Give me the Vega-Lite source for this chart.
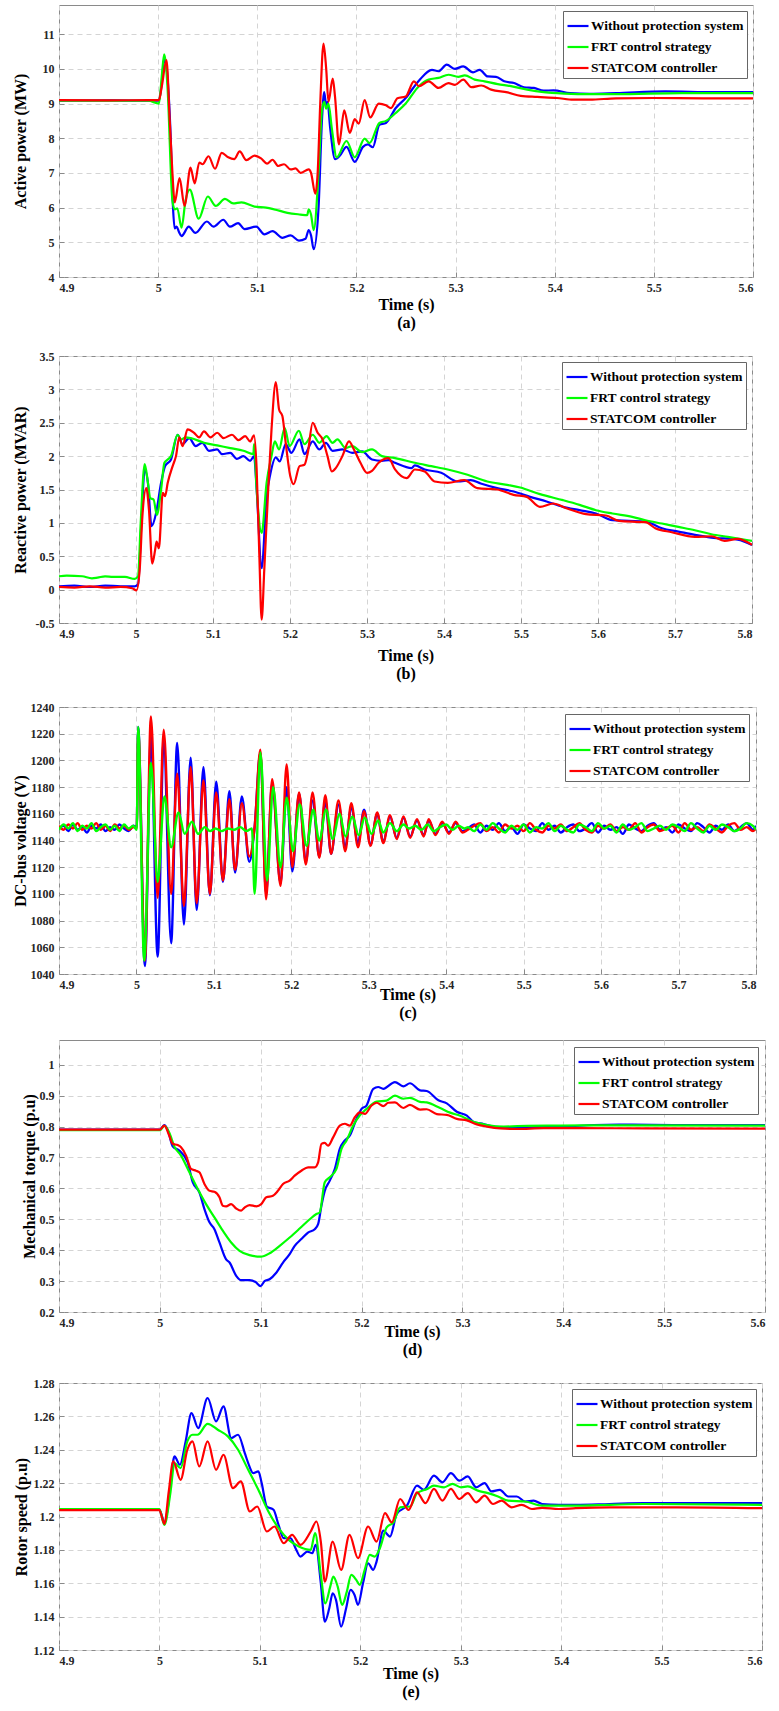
{
"$schema":"https://vega.github.io/schema/vega-lite/v6.json",
"padding":{"left":11,"top":4,"right":5,"bottom":2},
"background":"white",
"spacing":18,
"columns":1,
"align":"none",
"config":{
"view":{"stroke":"#8a8a8a","strokeWidth":1},
"font":"Liberation Serif, Times New Roman, DejaVu Serif, serif",
"axis":{"labelFont":"Liberation Serif, Times New Roman, DejaVu Serif, serif","labelFontWeight":"bold","labelFontSize":12,"labelColor":"#262626","titleFont":"Liberation Serif, Times New Roman, DejaVu Serif, serif","titleFontWeight":"bold","titleFontSize":16,"titleColor":"#000000","grid":true,"gridColor":"#d4d4d4","gridDash":[5,4],"gridWidth":1,"domain":false,"ticks":true,"tickSize":-5,"tickColor":"#8a8a8a","labelPadding":10,"titleLineHeight":18},
"line":{"strokeWidth":2.2,"clip":true,"interpolate":"monotone"}
},
"resolve":{"scale":{"x":"independent","y":"independent","color":"independent"},"legend":{"color":"independent"}},
"datasets":{
"a":[
{"s":"W","t":4.9,"v":9.08},{"s":"W","t":4.95,"v":9.09},{"s":"W","t":5.0008,"v":9.08},{"s":"W","t":5.0037,"v":9.6},{"s":"W","t":5.0061,"v":10.3},{"s":"W","t":5.0084,"v":10.05},{"s":"W","t":5.0127,"v":8.0},{"s":"W","t":5.015,"v":6.0},{"s":"W","t":5.0167,"v":5.4},{"s":"W","t":5.0187,"v":5.45},{"s":"W","t":5.021,"v":5.3},{"s":"W","t":5.0236,"v":5.18},{"s":"W","t":5.0309,"v":5.45},{"s":"W","t":5.0376,"v":5.27},{"s":"W","t":5.0492,"v":5.6},{"s":"W","t":5.0558,"v":5.45},{"s":"W","t":5.0657,"v":5.65},{"s":"W","t":5.0724,"v":5.45},{"s":"W","t":5.0806,"v":5.55},{"s":"W","t":5.0873,"v":5.38},{"s":"W","t":5.0989,"v":5.45},{"s":"W","t":5.1072,"v":5.23},{"s":"W","t":5.1154,"v":5.32},{"s":"W","t":5.1254,"v":5.13},{"s":"W","t":5.1337,"v":5.2},{"s":"W","t":5.142,"v":5.05},{"s":"W","t":5.1486,"v":5.1},{"s":"W","t":5.1519,"v":5.35},{"s":"W","t":5.1542,"v":5.2},{"s":"W","t":5.1569,"v":4.8},{"s":"W","t":5.1618,"v":6.0},{"s":"W","t":5.1652,"v":8.5},{"s":"W","t":5.1675,"v":9.33},{"s":"W","t":5.1695,"v":8.95},{"s":"W","t":5.1708,"v":9.05},{"s":"W","t":5.1735,"v":8.3},{"s":"W","t":5.1784,"v":7.4},{"s":"W","t":5.1834,"v":7.5},{"s":"W","t":5.19,"v":7.75},{"s":"W","t":5.1983,"v":7.32},{"s":"W","t":5.2066,"v":7.75},{"s":"W","t":5.2116,"v":7.82},{"s":"W","t":5.2165,"v":7.74},{"s":"W","t":5.2232,"v":8.39},{"s":"W","t":5.2298,"v":8.44},{"s":"W","t":5.2397,"v":8.87},{"s":"W","t":5.2497,"v":9.16},{"s":"W","t":5.263,"v":9.66},{"s":"W","t":5.2762,"v":9.97},{"s":"W","t":5.2828,"v":9.93},{"s":"W","t":5.2911,"v":10.12},{"s":"W","t":5.2994,"v":10.0},{"s":"W","t":5.3077,"v":10.07},{"s":"W","t":5.3176,"v":9.9},{"s":"W","t":5.3243,"v":9.97},{"s":"W","t":5.3325,"v":9.78},{"s":"W","t":5.3408,"v":9.77},{"s":"W","t":5.3491,"v":9.64},{"s":"W","t":5.3591,"v":9.59},{"s":"W","t":5.369,"v":9.47},{"s":"W","t":5.379,"v":9.45},{"s":"W","t":5.3889,"v":9.37},{"s":"W","t":5.3988,"v":9.38},{"s":"W","t":5.4154,"v":9.3},{"s":"W","t":5.4353,"v":9.28},{"s":"W","t":5.4618,"v":9.3},{"s":"W","t":5.5115,"v":9.35},{"s":"W","t":5.5613,"v":9.33},{"s":"W","t":5.6,"v":9.33},
{"s":"F","t":4.9,"v":9.08},{"s":"F","t":4.99,"v":9.08},{"s":"F","t":5.0008,"v":9.0},{"s":"F","t":5.0037,"v":9.8},{"s":"F","t":5.0061,"v":10.42},{"s":"F","t":5.0094,"v":9.5},{"s":"F","t":5.0144,"v":6.2},{"s":"F","t":5.0167,"v":5.95},{"s":"F","t":5.0193,"v":5.98},{"s":"F","t":5.0236,"v":5.42},{"s":"F","t":5.0276,"v":6.2},{"s":"F","t":5.0319,"v":6.52},{"s":"F","t":5.0409,"v":5.68},{"s":"F","t":5.0501,"v":6.32},{"s":"F","t":5.0581,"v":6.05},{"s":"F","t":5.0674,"v":6.25},{"s":"F","t":5.0757,"v":6.12},{"s":"F","t":5.084,"v":6.15},{"s":"F","t":5.0972,"v":6.03},{"s":"F","t":5.1088,"v":6.0},{"s":"F","t":5.1171,"v":5.95},{"s":"F","t":5.1304,"v":5.85},{"s":"F","t":5.1436,"v":5.8},{"s":"F","t":5.1503,"v":5.78},{"s":"F","t":5.1519,"v":5.95},{"s":"F","t":5.1542,"v":5.8},{"s":"F","t":5.1569,"v":5.35},{"s":"F","t":5.1618,"v":7.0},{"s":"F","t":5.1652,"v":8.8},{"s":"F","t":5.1675,"v":9.05},{"s":"F","t":5.1695,"v":8.85},{"s":"F","t":5.1718,"v":9.0},{"s":"F","t":5.1751,"v":8.3},{"s":"F","t":5.1801,"v":7.45},{"s":"F","t":5.19,"v":7.92},{"s":"F","t":5.1983,"v":7.45},{"s":"F","t":5.2083,"v":7.99},{"s":"F","t":5.2132,"v":7.86},{"s":"F","t":5.2232,"v":8.44},{"s":"F","t":5.2298,"v":8.5},{"s":"F","t":5.2397,"v":8.73},{"s":"F","t":5.2497,"v":9.0},{"s":"F","t":5.263,"v":9.5},{"s":"F","t":5.2729,"v":9.69},{"s":"F","t":5.2828,"v":9.74},{"s":"F","t":5.2928,"v":9.83},{"s":"F","t":5.3027,"v":9.77},{"s":"F","t":5.3093,"v":9.81},{"s":"F","t":5.3193,"v":9.69},{"s":"F","t":5.3292,"v":9.64},{"s":"F","t":5.3425,"v":9.56},{"s":"F","t":5.3558,"v":9.5},{"s":"F","t":5.3723,"v":9.4},{"s":"F","t":5.3889,"v":9.33},{"s":"F","t":5.4022,"v":9.3},{"s":"F","t":5.4287,"v":9.27},{"s":"F","t":5.4618,"v":9.27},{"s":"F","t":5.5281,"v":9.3},{"s":"F","t":5.6,"v":9.3},
{"s":"S","t":4.9,"v":9.1},{"s":"S","t":4.95,"v":9.09},{"s":"S","t":4.99,"v":9.1},{"s":"S","t":5.0008,"v":9.1},{"s":"S","t":5.0037,"v":9.5},{"s":"S","t":5.0084,"v":10.25},{"s":"S","t":5.0117,"v":8.5},{"s":"S","t":5.0144,"v":7.0},{"s":"S","t":5.0167,"v":6.15},{"s":"S","t":5.0216,"v":6.85},{"s":"S","t":5.0266,"v":6.05},{"s":"S","t":5.0326,"v":7.15},{"s":"S","t":5.0369,"v":6.7},{"s":"S","t":5.0415,"v":7.3},{"s":"S","t":5.0448,"v":7.25},{"s":"S","t":5.0508,"v":7.48},{"s":"S","t":5.0574,"v":7.12},{"s":"S","t":5.0641,"v":7.58},{"s":"S","t":5.0707,"v":7.45},{"s":"S","t":5.0767,"v":7.4},{"s":"S","t":5.0823,"v":7.62},{"s":"S","t":5.0889,"v":7.37},{"s":"S","t":5.0972,"v":7.5},{"s":"S","t":5.1038,"v":7.42},{"s":"S","t":5.1098,"v":7.27},{"s":"S","t":5.1154,"v":7.38},{"s":"S","t":5.1211,"v":7.2},{"s":"S","t":5.127,"v":7.25},{"s":"S","t":5.1337,"v":7.1},{"s":"S","t":5.1386,"v":7.13},{"s":"S","t":5.1436,"v":7.0},{"s":"S","t":5.1519,"v":7.1},{"s":"S","t":5.1542,"v":7.0},{"s":"S","t":5.1585,"v":6.4},{"s":"S","t":5.1609,"v":7.0},{"s":"S","t":5.1635,"v":9.0},{"s":"S","t":5.1668,"v":10.73},{"s":"S","t":5.1695,"v":10.0},{"s":"S","t":5.1718,"v":9.05},{"s":"S","t":5.1761,"v":9.72},{"s":"S","t":5.1784,"v":9.2},{"s":"S","t":5.1824,"v":7.82},{"s":"S","t":5.1877,"v":8.8},{"s":"S","t":5.1933,"v":8.15},{"s":"S","t":5.1983,"v":8.55},{"s":"S","t":5.2023,"v":8.42},{"s":"S","t":5.2083,"v":9.1},{"s":"S","t":5.2139,"v":8.6},{"s":"S","t":5.2225,"v":9.0},{"s":"S","t":5.2298,"v":8.95},{"s":"S","t":5.2348,"v":8.87},{"s":"S","t":5.2414,"v":9.15},{"s":"S","t":5.2497,"v":9.2},{"s":"S","t":5.258,"v":9.64},{"s":"S","t":5.263,"v":9.5},{"s":"S","t":5.2729,"v":9.64},{"s":"S","t":5.2828,"v":9.45},{"s":"S","t":5.2928,"v":9.59},{"s":"S","t":5.2994,"v":9.54},{"s":"S","t":5.3077,"v":9.69},{"s":"S","t":5.316,"v":9.47},{"s":"S","t":5.3259,"v":9.52},{"s":"S","t":5.3359,"v":9.4},{"s":"S","t":5.3524,"v":9.32},{"s":"S","t":5.3657,"v":9.22},{"s":"S","t":5.3823,"v":9.19},{"s":"S","t":5.4022,"v":9.16},{"s":"S","t":5.4187,"v":9.11},{"s":"S","t":5.4353,"v":9.11},{"s":"S","t":5.4618,"v":9.15},{"s":"S","t":5.5,"v":9.16},{"s":"S","t":5.55,"v":9.15},{"s":"S","t":5.6,"v":9.15}
],
"b":[
{"s":"W","t":4.9,"v":0.05},{"s":"W","t":4.92,"v":0.06},{"s":"W","t":4.94,"v":0.04},{"s":"W","t":4.96,"v":0.06},{"s":"W","t":4.98,"v":0.05},{"s":"W","t":4.9984,"v":0.05},{"s":"W","t":5.0027,"v":0.08},{"s":"W","t":5.007,"v":1.0},{"s":"W","t":5.0113,"v":1.8},{"s":"W","t":5.0155,"v":1.6},{"s":"W","t":5.0202,"v":0.95},{"s":"W","t":5.0262,"v":1.15},{"s":"W","t":5.0326,"v":1.6},{"s":"W","t":5.0378,"v":1.85},{"s":"W","t":5.0455,"v":1.95},{"s":"W","t":5.054,"v":2.32},{"s":"W","t":5.0605,"v":2.18},{"s":"W","t":5.069,"v":2.27},{"s":"W","t":5.0776,"v":2.15},{"s":"W","t":5.0861,"v":2.2},{"s":"W","t":5.0947,"v":2.08},{"s":"W","t":5.1054,"v":2.1},{"s":"W","t":5.1118,"v":2.03},{"s":"W","t":5.1225,"v":2.05},{"s":"W","t":5.131,"v":1.96},{"s":"W","t":5.1396,"v":2.0},{"s":"W","t":5.1482,"v":1.93},{"s":"W","t":5.1533,"v":2.0},{"s":"W","t":5.1567,"v":1.5},{"s":"W","t":5.1632,"v":0.32},{"s":"W","t":5.1696,"v":1.4},{"s":"W","t":5.1739,"v":1.7},{"s":"W","t":5.1816,"v":1.98},{"s":"W","t":5.1867,"v":1.92},{"s":"W","t":5.1944,"v":2.18},{"s":"W","t":5.2017,"v":2.05},{"s":"W","t":5.2124,"v":2.25},{"s":"W","t":5.2188,"v":2.03},{"s":"W","t":5.2295,"v":2.22},{"s":"W","t":5.2381,"v":2.1},{"s":"W","t":5.2466,"v":2.2},{"s":"W","t":5.2552,"v":2.08},{"s":"W","t":5.268,"v":2.1},{"s":"W","t":5.2808,"v":2.05},{"s":"W","t":5.2937,"v":2.07},{"s":"W","t":5.3065,"v":1.95},{"s":"W","t":5.3193,"v":1.93},{"s":"W","t":5.3279,"v":1.94},{"s":"W","t":5.3364,"v":1.9},{"s":"W","t":5.3578,"v":1.82},{"s":"W","t":5.3621,"v":1.86},{"s":"W","t":5.3749,"v":1.8},{"s":"W","t":5.3963,"v":1.75},{"s":"W","t":5.4177,"v":1.62},{"s":"W","t":5.4348,"v":1.64},{"s":"W","t":5.4477,"v":1.59},{"s":"W","t":5.469,"v":1.52},{"s":"W","t":5.4904,"v":1.47},{"s":"W","t":5.5118,"v":1.39},{"s":"W","t":5.5332,"v":1.32},{"s":"W","t":5.5546,"v":1.24},{"s":"W","t":5.576,"v":1.19},{"s":"W","t":5.5974,"v":1.14},{"s":"W","t":5.6187,"v":1.04},{"s":"W","t":5.6402,"v":1.03},{"s":"W","t":5.6616,"v":1.02},{"s":"W","t":5.683,"v":0.92},{"s":"W","t":5.7044,"v":0.87},{"s":"W","t":5.7258,"v":0.82},{"s":"W","t":5.7472,"v":0.78},{"s":"W","t":5.7814,"v":0.75},{"s":"W","t":5.8,"v":0.67},
{"s":"F","t":4.9,"v":0.2},{"s":"F","t":4.91,"v":0.21},{"s":"F","t":4.93,"v":0.2},{"s":"F","t":4.9428,"v":0.17},{"s":"F","t":4.95,"v":0.18},{"s":"F","t":4.9599,"v":0.2},{"s":"F","t":4.97,"v":0.19},{"s":"F","t":4.9856,"v":0.19},{"s":"F","t":4.9984,"v":0.16},{"s":"F","t":5.0027,"v":0.2},{"s":"F","t":5.0061,"v":1.0},{"s":"F","t":5.0113,"v":1.88},{"s":"F","t":5.0155,"v":1.6},{"s":"F","t":5.0185,"v":1.37},{"s":"F","t":5.0228,"v":1.35},{"s":"F","t":5.0271,"v":1.12},{"s":"F","t":5.0326,"v":1.5},{"s":"F","t":5.0369,"v":1.9},{"s":"F","t":5.0412,"v":1.95},{"s":"F","t":5.0455,"v":2.0},{"s":"F","t":5.054,"v":2.32},{"s":"F","t":5.0583,"v":2.25},{"s":"F","t":5.0647,"v":2.28},{"s":"F","t":5.0712,"v":2.27},{"s":"F","t":5.0883,"v":2.2},{"s":"F","t":5.1054,"v":2.16},{"s":"F","t":5.1225,"v":2.12},{"s":"F","t":5.1396,"v":2.08},{"s":"F","t":5.1525,"v":2.03},{"s":"F","t":5.1533,"v":2.18},{"s":"F","t":5.1567,"v":1.5},{"s":"F","t":5.1632,"v":0.85},{"s":"F","t":5.1696,"v":1.6},{"s":"F","t":5.176,"v":2.0},{"s":"F","t":5.1803,"v":2.22},{"s":"F","t":5.1858,"v":2.1},{"s":"F","t":5.1931,"v":2.42},{"s":"F","t":5.1995,"v":2.15},{"s":"F","t":5.2115,"v":2.38},{"s":"F","t":5.2188,"v":2.18},{"s":"F","t":5.2295,"v":2.32},{"s":"F","t":5.2381,"v":2.2},{"s":"F","t":5.2475,"v":2.3},{"s":"F","t":5.2552,"v":2.2},{"s":"F","t":5.2616,"v":2.25},{"s":"F","t":5.2723,"v":2.12},{"s":"F","t":5.2808,"v":2.15},{"s":"F","t":5.2937,"v":2.06},{"s":"F","t":5.3065,"v":2.1},{"s":"F","t":5.3193,"v":2.0},{"s":"F","t":5.3364,"v":1.97},{"s":"F","t":5.3621,"v":1.9},{"s":"F","t":5.3835,"v":1.85},{"s":"F","t":5.4049,"v":1.8},{"s":"F","t":5.4306,"v":1.72},{"s":"F","t":5.4562,"v":1.62},{"s":"F","t":5.4819,"v":1.57},{"s":"F","t":5.499,"v":1.53},{"s":"F","t":5.5246,"v":1.43},{"s":"F","t":5.5546,"v":1.34},{"s":"F","t":5.576,"v":1.27},{"s":"F","t":5.5974,"v":1.19},{"s":"F","t":5.6187,"v":1.14},{"s":"F","t":5.6444,"v":1.09},{"s":"F","t":5.6616,"v":1.04},{"s":"F","t":5.683,"v":0.99},{"s":"F","t":5.7044,"v":0.94},{"s":"F","t":5.7258,"v":0.89},{"s":"F","t":5.7472,"v":0.83},{"s":"F","t":5.7686,"v":0.79},{"s":"F","t":5.8,"v":0.73},
{"s":"S","t":4.9,"v":0.04},{"s":"S","t":4.92,"v":0.03},{"s":"S","t":4.94,"v":0.05},{"s":"S","t":4.96,"v":0.03},{"s":"S","t":4.98,"v":0.04},{"s":"S","t":4.995,"v":0.02},{"s":"S","t":5.0006,"v":-0.01},{"s":"S","t":5.0048,"v":0.3},{"s":"S","t":5.0083,"v":1.1},{"s":"S","t":5.0134,"v":1.52},{"s":"S","t":5.0168,"v":1.2},{"s":"S","t":5.0211,"v":0.39},{"s":"S","t":5.0249,"v":0.6},{"s":"S","t":5.0267,"v":0.72},{"s":"S","t":5.0297,"v":0.62},{"s":"S","t":5.0348,"v":1.45},{"s":"S","t":5.0378,"v":1.4},{"s":"S","t":5.0412,"v":1.6},{"s":"S","t":5.0476,"v":1.85},{"s":"S","t":5.0519,"v":2.0},{"s":"S","t":5.0562,"v":2.28},{"s":"S","t":5.0605,"v":2.15},{"s":"S","t":5.0669,"v":2.4},{"s":"S","t":5.0754,"v":2.35},{"s":"S","t":5.0819,"v":2.28},{"s":"S","t":5.0883,"v":2.37},{"s":"S","t":5.0968,"v":2.28},{"s":"S","t":5.1054,"v":2.35},{"s":"S","t":5.1139,"v":2.27},{"s":"S","t":5.1246,"v":2.32},{"s":"S","t":5.1332,"v":2.24},{"s":"S","t":5.1418,"v":2.3},{"s":"S","t":5.1482,"v":2.22},{"s":"S","t":5.1533,"v":2.31},{"s":"S","t":5.1567,"v":1.8},{"s":"S","t":5.1602,"v":0.5},{"s":"S","t":5.1632,"v":-0.45},{"s":"S","t":5.1666,"v":0.3},{"s":"S","t":5.1717,"v":1.5},{"s":"S","t":5.176,"v":2.4},{"s":"S","t":5.1816,"v":3.11},{"s":"S","t":5.1858,"v":2.7},{"s":"S","t":5.1901,"v":2.6},{"s":"S","t":5.1944,"v":2.2},{"s":"S","t":5.2004,"v":1.7},{"s":"S","t":5.2047,"v":1.58},{"s":"S","t":5.2124,"v":1.85},{"s":"S","t":5.2188,"v":1.87},{"s":"S","t":5.2231,"v":2.05},{"s":"S","t":5.2295,"v":2.5},{"s":"S","t":5.2359,"v":2.35},{"s":"S","t":5.2423,"v":2.25},{"s":"S","t":5.2487,"v":2.0},{"s":"S","t":5.2543,"v":1.77},{"s":"S","t":5.2594,"v":1.82},{"s":"S","t":5.268,"v":2.0},{"s":"S","t":5.2766,"v":2.22},{"s":"S","t":5.283,"v":2.1},{"s":"S","t":5.2915,"v":1.9},{"s":"S","t":5.3001,"v":1.75},{"s":"S","t":5.3065,"v":1.78},{"s":"S","t":5.3151,"v":1.9},{"s":"S","t":5.3279,"v":1.97},{"s":"S","t":5.3364,"v":1.8},{"s":"S","t":5.3514,"v":1.67},{"s":"S","t":5.3621,"v":1.8},{"s":"S","t":5.3749,"v":1.77},{"s":"S","t":5.3878,"v":1.62},{"s":"S","t":5.4049,"v":1.6},{"s":"S","t":5.4263,"v":1.64},{"s":"S","t":5.4434,"v":1.52},{"s":"S","t":5.469,"v":1.5},{"s":"S","t":5.4904,"v":1.42},{"s":"S","t":5.5075,"v":1.39},{"s":"S","t":5.5246,"v":1.24},{"s":"S","t":5.5417,"v":1.29},{"s":"S","t":5.5589,"v":1.22},{"s":"S","t":5.5845,"v":1.13},{"s":"S","t":5.6102,"v":1.11},{"s":"S","t":5.6273,"v":1.03},{"s":"S","t":5.6616,"v":1.01},{"s":"S","t":5.6744,"v":0.92},{"s":"S","t":5.6958,"v":0.86},{"s":"S","t":5.7258,"v":0.79},{"s":"S","t":5.7472,"v":0.8},{"s":"S","t":5.7643,"v":0.73},{"s":"S","t":5.7814,"v":0.76},{"s":"S","t":5.8,"v":0.67}
],
"c":[
{"s":"W","t":4.9,"v":1149},{"s":"W","t":4.906,"v":1151},{"s":"W","t":4.912,"v":1147},{"s":"W","t":4.918,"v":1152},{"s":"W","t":4.924,"v":1148},{"s":"W","t":4.93,"v":1150},{"s":"W","t":4.936,"v":1146},{"s":"W","t":4.942,"v":1151},{"s":"W","t":4.948,"v":1149},{"s":"W","t":4.954,"v":1152},{"s":"W","t":4.96,"v":1147},{"s":"W","t":4.966,"v":1150},{"s":"W","t":4.972,"v":1148},{"s":"W","t":4.978,"v":1152},{"s":"W","t":4.984,"v":1149},{"s":"W","t":4.99,"v":1147},{"s":"W","t":4.996,"v":1151},{"s":"W","t":5.0004,"v":1150},{"s":"W","t":5.0022,"v":1225},{"s":"W","t":5.0109,"v":1046},{"s":"W","t":5.0187,"v":1218},{"s":"W","t":5.0274,"v":1053},{"s":"W","t":5.0352,"v":1215},{"s":"W","t":5.0448,"v":1063},{"s":"W","t":5.0526,"v":1213},{"s":"W","t":5.0613,"v":1077},{"s":"W","t":5.07,"v":1202},{"s":"W","t":5.0778,"v":1088},{"s":"W","t":5.0865,"v":1195},{"s":"W","t":5.0948,"v":1099},{"s":"W","t":5.103,"v":1184},{"s":"W","t":5.1117,"v":1109},{"s":"W","t":5.12,"v":1177},{"s":"W","t":5.1274,"v":1116},{"s":"W","t":5.1361,"v":1173},{"s":"W","t":5.1457,"v":1124},{"s":"W","t":5.1526,"v":1150},{"s":"W","t":5.16,"v":1206},{"s":"W","t":5.1674,"v":1100},{"s":"W","t":5.1752,"v":1183},{"s":"W","t":5.1861,"v":1108},{"s":"W","t":5.1939,"v":1180},{"s":"W","t":5.2013,"v":1117},{"s":"W","t":5.21,"v":1175},{"s":"W","t":5.2187,"v":1124},{"s":"W","t":5.2274,"v":1170},{"s":"W","t":5.2361,"v":1128},{"s":"W","t":5.2439,"v":1170},{"s":"W","t":5.2513,"v":1130},{"s":"W","t":5.2609,"v":1167},{"s":"W","t":5.2696,"v":1135},{"s":"W","t":5.2774,"v":1165},{"s":"W","t":5.2861,"v":1138},{"s":"W","t":5.2939,"v":1163},{"s":"W","t":5.3022,"v":1137},{"s":"W","t":5.3109,"v":1160},{"s":"W","t":5.3187,"v":1139},{"s":"W","t":5.3274,"v":1158},{"s":"W","t":5.3361,"v":1142},{"s":"W","t":5.3448,"v":1157},{"s":"W","t":5.3535,"v":1143},{"s":"W","t":5.3622,"v":1155},{"s":"W","t":5.3709,"v":1144},{"s":"W","t":5.3774,"v":1155},{"s":"W","t":5.3861,"v":1145},{"s":"W","t":5.3948,"v":1153},{"s":"W","t":5.4035,"v":1146},{"s":"W","t":5.4122,"v":1153},{"s":"W","t":5.4209,"v":1147},
{"s":"W","t":5.428,"v":1149},{"s":"W","t":5.436,"v":1152},{"s":"W","t":5.444,"v":1146},{"s":"W","t":5.452,"v":1151},{"s":"W","t":5.46,"v":1148},{"s":"W","t":5.468,"v":1153},{"s":"W","t":5.476,"v":1147},{"s":"W","t":5.484,"v":1150},{"s":"W","t":5.492,"v":1145},{"s":"W","t":5.5,"v":1152},{"s":"W","t":5.508,"v":1149},{"s":"W","t":5.516,"v":1147},{"s":"W","t":5.524,"v":1153},{"s":"W","t":5.532,"v":1148},{"s":"W","t":5.54,"v":1151},{"s":"W","t":5.548,"v":1146},{"s":"W","t":5.556,"v":1150},{"s":"W","t":5.564,"v":1152},{"s":"W","t":5.572,"v":1147},{"s":"W","t":5.58,"v":1149},{"s":"W","t":5.588,"v":1153},{"s":"W","t":5.596,"v":1146},{"s":"W","t":5.604,"v":1151},{"s":"W","t":5.612,"v":1148},{"s":"W","t":5.62,"v":1150},{"s":"W","t":5.628,"v":1145},{"s":"W","t":5.636,"v":1152},{"s":"W","t":5.644,"v":1149},{"s":"W","t":5.652,"v":1147},{"s":"W","t":5.66,"v":1151},{"s":"W","t":5.668,"v":1153},{"s":"W","t":5.676,"v":1148},{"s":"W","t":5.684,"v":1150},{"s":"W","t":5.692,"v":1146},{"s":"W","t":5.7,"v":1152},{"s":"W","t":5.708,"v":1149},{"s":"W","t":5.716,"v":1147},{"s":"W","t":5.724,"v":1153},{"s":"W","t":5.732,"v":1150},{"s":"W","t":5.74,"v":1146},{"s":"W","t":5.748,"v":1151},{"s":"W","t":5.756,"v":1148},{"s":"W","t":5.764,"v":1152},{"s":"W","t":5.772,"v":1147},{"s":"W","t":5.78,"v":1150},{"s":"W","t":5.788,"v":1153},{"s":"W","t":5.796,"v":1148},{"s":"W","t":5.8,"v":1151},
{"s":"S","t":4.9,"v":1151},{"s":"S","t":4.906,"v":1148},{"s":"S","t":4.912,"v":1152},{"s":"S","t":4.918,"v":1149},{"s":"S","t":4.924,"v":1153},{"s":"S","t":4.93,"v":1148},{"s":"S","t":4.936,"v":1151},{"s":"S","t":4.942,"v":1149},{"s":"S","t":4.948,"v":1153},{"s":"S","t":4.954,"v":1148},{"s":"S","t":4.96,"v":1151},{"s":"S","t":4.966,"v":1147},{"s":"S","t":4.972,"v":1152},{"s":"S","t":4.978,"v":1149},{"s":"S","t":4.984,"v":1151},{"s":"S","t":4.99,"v":1148},{"s":"S","t":4.996,"v":1150},{"s":"S","t":5.0004,"v":1149},{"s":"S","t":5.0022,"v":1222},{"s":"S","t":5.0109,"v":1050},{"s":"S","t":5.0187,"v":1233},{"s":"S","t":5.0274,"v":1097},{"s":"S","t":5.0352,"v":1223},{"s":"S","t":5.0448,"v":1100},{"s":"S","t":5.0526,"v":1190},{"s":"S","t":5.0613,"v":1091},{"s":"S","t":5.07,"v":1195},{"s":"S","t":5.0778,"v":1093},{"s":"S","t":5.0865,"v":1185},{"s":"S","t":5.0948,"v":1100},{"s":"S","t":5.103,"v":1176},{"s":"S","t":5.1117,"v":1110},{"s":"S","t":5.12,"v":1171},{"s":"S","t":5.1274,"v":1118},{"s":"S","t":5.1361,"v":1168},{"s":"S","t":5.1457,"v":1128},{"s":"S","t":5.1526,"v":1150},{"s":"S","t":5.16,"v":1208},{"s":"S","t":5.1674,"v":1096},{"s":"S","t":5.1752,"v":1186},{"s":"S","t":5.1861,"v":1106},{"s":"S","t":5.1939,"v":1197},{"s":"S","t":5.2013,"v":1120},{"s":"S","t":5.21,"v":1176},{"s":"S","t":5.2187,"v":1122},{"s":"S","t":5.2274,"v":1176},{"s":"S","t":5.2361,"v":1127},{"s":"S","t":5.2439,"v":1174},{"s":"S","t":5.2513,"v":1130},{"s":"S","t":5.2609,"v":1170},{"s":"S","t":5.2696,"v":1132},{"s":"S","t":5.2774,"v":1168},{"s":"S","t":5.2861,"v":1135},{"s":"S","t":5.2939,"v":1162},{"s":"S","t":5.3022,"v":1136},{"s":"S","t":5.3109,"v":1161},{"s":"S","t":5.3187,"v":1138},{"s":"S","t":5.3274,"v":1159},{"s":"S","t":5.3361,"v":1141},{"s":"S","t":5.3448,"v":1158},{"s":"S","t":5.3535,"v":1142},{"s":"S","t":5.3622,"v":1156},{"s":"S","t":5.3709,"v":1143},{"s":"S","t":5.3774,"v":1156},{"s":"S","t":5.3861,"v":1144},{"s":"S","t":5.3948,"v":1154},{"s":"S","t":5.4035,"v":1145},{"s":"S","t":5.4122,"v":1154},{"s":"S","t":5.4209,"v":1146},
{"s":"S","t":5.428,"v":1148},{"s":"S","t":5.436,"v":1151},{"s":"S","t":5.444,"v":1153},{"s":"S","t":5.452,"v":1147},{"s":"S","t":5.46,"v":1150},{"s":"S","t":5.468,"v":1146},{"s":"S","t":5.476,"v":1152},{"s":"S","t":5.484,"v":1149},{"s":"S","t":5.492,"v":1151},{"s":"S","t":5.5,"v":1147},{"s":"S","t":5.508,"v":1153},{"s":"S","t":5.516,"v":1148},{"s":"S","t":5.524,"v":1146},{"s":"S","t":5.532,"v":1151},{"s":"S","t":5.54,"v":1149},{"s":"S","t":5.548,"v":1152},{"s":"S","t":5.556,"v":1147},{"s":"S","t":5.564,"v":1150},{"s":"S","t":5.572,"v":1153},{"s":"S","t":5.58,"v":1148},{"s":"S","t":5.588,"v":1146},{"s":"S","t":5.596,"v":1151},{"s":"S","t":5.604,"v":1149},{"s":"S","t":5.612,"v":1152},{"s":"S","t":5.62,"v":1147},{"s":"S","t":5.628,"v":1150},{"s":"S","t":5.636,"v":1148},{"s":"S","t":5.644,"v":1153},{"s":"S","t":5.652,"v":1146},{"s":"S","t":5.66,"v":1150},{"s":"S","t":5.668,"v":1152},{"s":"S","t":5.676,"v":1147},{"s":"S","t":5.684,"v":1149},{"s":"S","t":5.692,"v":1151},{"s":"S","t":5.7,"v":1146},{"s":"S","t":5.708,"v":1153},{"s":"S","t":5.716,"v":1148},{"s":"S","t":5.724,"v":1150},{"s":"S","t":5.732,"v":1147},{"s":"S","t":5.74,"v":1152},{"s":"S","t":5.748,"v":1149},{"s":"S","t":5.756,"v":1146},{"s":"S","t":5.764,"v":1151},{"s":"S","t":5.772,"v":1153},{"s":"S","t":5.78,"v":1148},{"s":"S","t":5.788,"v":1150},{"s":"S","t":5.796,"v":1147},{"s":"S","t":5.8,"v":1149},
{"s":"F","t":4.9,"v":1148},{"s":"F","t":4.906,"v":1152},{"s":"F","t":4.912,"v":1149},{"s":"F","t":4.918,"v":1153},{"s":"F","t":4.924,"v":1147},{"s":"F","t":4.93,"v":1151},{"s":"F","t":4.936,"v":1149},{"s":"F","t":4.942,"v":1153},{"s":"F","t":4.948,"v":1147},{"s":"F","t":4.954,"v":1150},{"s":"F","t":4.96,"v":1152},{"s":"F","t":4.966,"v":1148},{"s":"F","t":4.972,"v":1151},{"s":"F","t":4.978,"v":1147},{"s":"F","t":4.984,"v":1152},{"s":"F","t":4.99,"v":1149},{"s":"F","t":4.996,"v":1151},{"s":"F","t":5.0004,"v":1148},{"s":"F","t":5.0022,"v":1225},{"s":"F","t":5.01,"v":1050},{"s":"F","t":5.0187,"v":1198},{"s":"F","t":5.0274,"v":1109},{"s":"F","t":5.0361,"v":1173},{"s":"F","t":5.0448,"v":1135},{"s":"F","t":5.0543,"v":1161},{"s":"F","t":5.0622,"v":1145},{"s":"F","t":5.0717,"v":1154},{"s":"F","t":5.0796,"v":1145},{"s":"F","t":5.0883,"v":1150},{"s":"F","t":5.095,"v":1147},{"s":"F","t":5.102,"v":1149},{"s":"F","t":5.11,"v":1147},{"s":"F","t":5.118,"v":1149},{"s":"F","t":5.126,"v":1148},{"s":"F","t":5.134,"v":1150},{"s":"F","t":5.142,"v":1147},{"s":"F","t":5.1491,"v":1149},{"s":"F","t":5.1526,"v":1100},{"s":"F","t":5.16,"v":1206},{"s":"F","t":5.1687,"v":1110},{"s":"F","t":5.1765,"v":1180},{"s":"F","t":5.1861,"v":1120},{"s":"F","t":5.1939,"v":1172},{"s":"F","t":5.2022,"v":1132},{"s":"F","t":5.2109,"v":1167},{"s":"F","t":5.2196,"v":1136},{"s":"F","t":5.2283,"v":1163},{"s":"F","t":5.2361,"v":1140},{"s":"F","t":5.2448,"v":1163},{"s":"F","t":5.2535,"v":1141},{"s":"F","t":5.2622,"v":1160},{"s":"F","t":5.27,"v":1143},{"s":"F","t":5.2787,"v":1158},{"s":"F","t":5.287,"v":1144},{"s":"F","t":5.2948,"v":1157},{"s":"F","t":5.3035,"v":1145},{"s":"F","t":5.3122,"v":1155},{"s":"F","t":5.3187,"v":1146},{"s":"F","t":5.3274,"v":1153},{"s":"F","t":5.3361,"v":1147},{"s":"F","t":5.3448,"v":1152},{"s":"F","t":5.352,"v":1149},{"s":"F","t":5.36,"v":1151},{"s":"F","t":5.368,"v":1148},{"s":"F","t":5.376,"v":1152},{"s":"F","t":5.384,"v":1147},{"s":"F","t":5.392,"v":1150},{"s":"F","t":5.4,"v":1152},{"s":"F","t":5.408,"v":1148},{"s":"F","t":5.416,"v":1151},{"s":"F","t":5.424,"v":1149},
{"s":"F","t":5.428,"v":1150},{"s":"F","t":5.436,"v":1147},{"s":"F","t":5.444,"v":1152},{"s":"F","t":5.452,"v":1148},{"s":"F","t":5.46,"v":1153},{"s":"F","t":5.468,"v":1149},{"s":"F","t":5.476,"v":1146},{"s":"F","t":5.484,"v":1151},{"s":"F","t":5.492,"v":1148},{"s":"F","t":5.5,"v":1152},{"s":"F","t":5.508,"v":1146},{"s":"F","t":5.516,"v":1150},{"s":"F","t":5.524,"v":1149},{"s":"F","t":5.532,"v":1153},{"s":"F","t":5.54,"v":1147},{"s":"F","t":5.548,"v":1151},{"s":"F","t":5.556,"v":1148},{"s":"F","t":5.564,"v":1146},{"s":"F","t":5.572,"v":1152},{"s":"F","t":5.58,"v":1150},{"s":"F","t":5.588,"v":1147},{"s":"F","t":5.596,"v":1153},{"s":"F","t":5.604,"v":1149},{"s":"F","t":5.612,"v":1151},{"s":"F","t":5.62,"v":1146},{"s":"F","t":5.628,"v":1152},{"s":"F","t":5.636,"v":1148},{"s":"F","t":5.644,"v":1150},{"s":"F","t":5.652,"v":1153},{"s":"F","t":5.66,"v":1147},{"s":"F","t":5.668,"v":1149},{"s":"F","t":5.676,"v":1151},{"s":"F","t":5.684,"v":1148},{"s":"F","t":5.692,"v":1152},{"s":"F","t":5.7,"v":1150},{"s":"F","t":5.708,"v":1147},{"s":"F","t":5.716,"v":1153},{"s":"F","t":5.724,"v":1149},{"s":"F","t":5.732,"v":1146},{"s":"F","t":5.74,"v":1151},{"s":"F","t":5.748,"v":1148},{"s":"F","t":5.756,"v":1152},{"s":"F","t":5.764,"v":1150},{"s":"F","t":5.772,"v":1147},{"s":"F","t":5.78,"v":1149},{"s":"F","t":5.788,"v":1153},{"s":"F","t":5.796,"v":1151},{"s":"F","t":5.8,"v":1148}
],
"d":[
{"s":"W","t":4.9,"v":0.79},{"s":"W","t":5.0,"v":0.79},{"s":"W","t":5.0044,"v":0.805},{"s":"W","t":5.0077,"v":0.79},{"s":"W","t":5.0127,"v":0.736},{"s":"W","t":5.0193,"v":0.722},{"s":"W","t":5.0276,"v":0.684},{"s":"W","t":5.0326,"v":0.62},{"s":"W","t":5.0392,"v":0.587},{"s":"W","t":5.0442,"v":0.533},{"s":"W","t":5.0492,"v":0.49},{"s":"W","t":5.0541,"v":0.468},{"s":"W","t":5.0591,"v":0.425},{"s":"W","t":5.0657,"v":0.37},{"s":"W","t":5.0691,"v":0.36},{"s":"W","t":5.0757,"v":0.317},{"s":"W","t":5.0806,"v":0.303},{"s":"W","t":5.0889,"v":0.303},{"s":"W","t":5.0949,"v":0.297},{"s":"W","t":5.0999,"v":0.284},{"s":"W","t":5.1038,"v":0.3},{"s":"W","t":5.1088,"v":0.306},{"s":"W","t":5.1154,"v":0.327},{"s":"W","t":5.1221,"v":0.36},{"s":"W","t":5.1287,"v":0.387},{"s":"W","t":5.1337,"v":0.414},{"s":"W","t":5.1403,"v":0.436},{"s":"W","t":5.1469,"v":0.457},{"s":"W","t":5.1536,"v":0.468},{"s":"W","t":5.1569,"v":0.484},{"s":"W","t":5.1602,"v":0.544},{"s":"W","t":5.1635,"v":0.592},{"s":"W","t":5.1685,"v":0.625},{"s":"W","t":5.1735,"v":0.663},{"s":"W","t":5.1784,"v":0.728},{"s":"W","t":5.1834,"v":0.755},{"s":"W","t":5.1884,"v":0.771},{"s":"W","t":5.195,"v":0.825},{"s":"W","t":5.2,"v":0.857},{"s":"W","t":5.2049,"v":0.868},{"s":"W","t":5.2116,"v":0.922},{"s":"W","t":5.2165,"v":0.928},{"s":"W","t":5.2215,"v":0.922},{"s":"W","t":5.2331,"v":0.944},{"s":"W","t":5.2414,"v":0.93},{"s":"W","t":5.248,"v":0.94},{"s":"W","t":5.258,"v":0.917},{"s":"W","t":5.2646,"v":0.915},{"s":"W","t":5.2762,"v":0.885},{"s":"W","t":5.2845,"v":0.875},{"s":"W","t":5.2944,"v":0.848},{"s":"W","t":5.3044,"v":0.835},{"s":"W","t":5.311,"v":0.815},{"s":"W","t":5.321,"v":0.808},{"s":"W","t":5.3309,"v":0.8},{"s":"W","t":5.3475,"v":0.797},{"s":"W","t":5.364,"v":0.796},{"s":"W","t":5.3806,"v":0.8},{"s":"W","t":5.4005,"v":0.8},{"s":"W","t":5.4303,"v":0.805},{"s":"W","t":5.4635,"v":0.806},{"s":"W","t":5.5132,"v":0.805},{"s":"W","t":5.6,"v":0.805},
{"s":"F","t":4.9,"v":0.788},{"s":"F","t":5.0,"v":0.788},{"s":"F","t":5.0044,"v":0.802},{"s":"F","t":5.0094,"v":0.78},{"s":"F","t":5.0144,"v":0.735},{"s":"F","t":5.021,"v":0.706},{"s":"F","t":5.0293,"v":0.652},{"s":"F","t":5.0376,"v":0.598},{"s":"F","t":5.0458,"v":0.549},{"s":"F","t":5.0541,"v":0.506},{"s":"F","t":5.0624,"v":0.463},{"s":"F","t":5.0707,"v":0.425},{"s":"F","t":5.079,"v":0.398},{"s":"F","t":5.0889,"v":0.384},{"s":"F","t":5.0999,"v":0.379},{"s":"F","t":5.1088,"v":0.39},{"s":"F","t":5.1188,"v":0.414},{"s":"F","t":5.1287,"v":0.441},{"s":"F","t":5.1386,"v":0.47},{"s":"F","t":5.1486,"v":0.5},{"s":"F","t":5.1552,"v":0.517},{"s":"F","t":5.1585,"v":0.522},{"s":"F","t":5.1635,"v":0.62},{"s":"F","t":5.1685,"v":0.636},{"s":"F","t":5.1751,"v":0.663},{"s":"F","t":5.1801,"v":0.728},{"s":"F","t":5.1851,"v":0.755},{"s":"F","t":5.1917,"v":0.803},{"s":"F","t":5.1983,"v":0.836},{"s":"F","t":5.2049,"v":0.857},{"s":"F","t":5.2149,"v":0.881},{"s":"F","t":5.2248,"v":0.884},{"s":"F","t":5.2331,"v":0.9},{"s":"F","t":5.2414,"v":0.89},{"s":"F","t":5.248,"v":0.893},{"s":"F","t":5.258,"v":0.88},{"s":"F","t":5.2646,"v":0.878},{"s":"F","t":5.2779,"v":0.86},{"s":"F","t":5.2878,"v":0.845},{"s":"F","t":5.2978,"v":0.835},{"s":"F","t":5.311,"v":0.815},{"s":"F","t":5.3243,"v":0.805},{"s":"F","t":5.3409,"v":0.8},{"s":"F","t":5.364,"v":0.802},{"s":"F","t":5.3972,"v":0.803},{"s":"F","t":5.4469,"v":0.804},{"s":"F","t":5.6,"v":0.803},
{"s":"S","t":4.9,"v":0.79},{"s":"S","t":5.0,"v":0.79},{"s":"S","t":5.0044,"v":0.803},{"s":"S","t":5.0094,"v":0.77},{"s":"S","t":5.0127,"v":0.744},{"s":"S","t":5.0177,"v":0.74},{"s":"S","t":5.021,"v":0.733},{"s":"S","t":5.026,"v":0.706},{"s":"S","t":5.0309,"v":0.663},{"s":"S","t":5.0359,"v":0.657},{"s":"S","t":5.0392,"v":0.652},{"s":"S","t":5.0442,"v":0.614},{"s":"S","t":5.0492,"v":0.592},{"s":"S","t":5.0541,"v":0.589},{"s":"S","t":5.0591,"v":0.571},{"s":"S","t":5.0624,"v":0.544},{"s":"S","t":5.0657,"v":0.542},{"s":"S","t":5.0707,"v":0.549},{"s":"S","t":5.0757,"v":0.535},{"s":"S","t":5.0806,"v":0.528},{"s":"S","t":5.084,"v":0.538},{"s":"S","t":5.0889,"v":0.546},{"s":"S","t":5.0956,"v":0.542},{"s":"S","t":5.1005,"v":0.549},{"s":"S","t":5.1055,"v":0.571},{"s":"S","t":5.1121,"v":0.576},{"s":"S","t":5.1171,"v":0.592},{"s":"S","t":5.1221,"v":0.614},{"s":"S","t":5.1287,"v":0.625},{"s":"S","t":5.1337,"v":0.641},{"s":"S","t":5.1403,"v":0.657},{"s":"S","t":5.1469,"v":0.668},{"s":"S","t":5.1536,"v":0.668},{"s":"S","t":5.1569,"v":0.684},{"s":"S","t":5.1602,"v":0.744},{"s":"S","t":5.1635,"v":0.747},{"s":"S","t":5.1668,"v":0.738},{"s":"S","t":5.1718,"v":0.765},{"s":"S","t":5.1784,"v":0.803},{"s":"S","t":5.1834,"v":0.809},{"s":"S","t":5.1884,"v":0.803},{"s":"S","t":5.1933,"v":0.83},{"s":"S","t":5.1983,"v":0.846},{"s":"S","t":5.2033,"v":0.841},{"s":"S","t":5.2099,"v":0.868},{"s":"S","t":5.2149,"v":0.877},{"s":"S","t":5.2215,"v":0.866},{"s":"S","t":5.2265,"v":0.877},{"s":"S","t":5.2331,"v":0.878},{"s":"S","t":5.2414,"v":0.86},{"s":"S","t":5.248,"v":0.87},{"s":"S","t":5.258,"v":0.855},{"s":"S","t":5.2646,"v":0.856},{"s":"S","t":5.2746,"v":0.84},{"s":"S","t":5.2845,"v":0.838},{"s":"S","t":5.2944,"v":0.825},{"s":"S","t":5.3044,"v":0.82},{"s":"S","t":5.3143,"v":0.807},{"s":"S","t":5.3243,"v":0.8},{"s":"S","t":5.3375,"v":0.794},{"s":"S","t":5.3541,"v":0.792},{"s":"S","t":5.3806,"v":0.795},{"s":"S","t":5.4138,"v":0.795},{"s":"S","t":5.4801,"v":0.794},{"s":"S","t":5.6,"v":0.793}
],
"e":[
{"s":"W","t":4.9,"v":1.204},{"s":"W","t":5.0,"v":1.204},{"s":"W","t":5.0026,"v":1.2},{"s":"W","t":5.0049,"v":1.196},{"s":"W","t":5.0083,"v":1.205},{"s":"W","t":5.0111,"v":1.22},{"s":"W","t":5.015,"v":1.236},{"s":"W","t":5.0204,"v":1.231},{"s":"W","t":5.0261,"v":1.245},{"s":"W","t":5.0319,"v":1.262},{"s":"W","t":5.0386,"v":1.253},{"s":"W","t":5.048,"v":1.271},{"s":"W","t":5.0564,"v":1.257},{"s":"W","t":5.0638,"v":1.266},{"s":"W","t":5.0715,"v":1.247},{"s":"W","t":5.0783,"v":1.249},{"s":"W","t":5.085,"v":1.238},{"s":"W","t":5.0884,"v":1.232},{"s":"W","t":5.0934,"v":1.226},{"s":"W","t":5.0985,"v":1.227},{"s":"W","t":5.1018,"v":1.22},{"s":"W","t":5.1069,"v":1.206},{"s":"W","t":5.1136,"v":1.204},{"s":"W","t":5.1186,"v":1.195},{"s":"W","t":5.1237,"v":1.187},{"s":"W","t":5.1304,"v":1.187},{"s":"W","t":5.1355,"v":1.181},{"s":"W","t":5.1405,"v":1.176},{"s":"W","t":5.1472,"v":1.179},{"s":"W","t":5.1523,"v":1.178},{"s":"W","t":5.1556,"v":1.183},{"s":"W","t":5.1607,"v":1.16},{"s":"W","t":5.1647,"v":1.137},{"s":"W","t":5.1691,"v":1.145},{"s":"W","t":5.1725,"v":1.154},{"s":"W","t":5.1758,"v":1.15},{"s":"W","t":5.1809,"v":1.134},{"s":"W","t":5.1859,"v":1.145},{"s":"W","t":5.1903,"v":1.156},{"s":"W","t":5.1943,"v":1.153},{"s":"W","t":5.1977,"v":1.147},{"s":"W","t":5.2027,"v":1.16},{"s":"W","t":5.2078,"v":1.172},{"s":"W","t":5.2128,"v":1.168},{"s":"W","t":5.2162,"v":1.173},{"s":"W","t":5.2229,"v":1.1915},{"s":"W","t":5.2296,"v":1.188},{"s":"W","t":5.2363,"v":1.2015},{"s":"W","t":5.2464,"v":1.2065},{"s":"W","t":5.2565,"v":1.2185},{"s":"W","t":5.2633,"v":1.216},{"s":"W","t":5.2733,"v":1.2245},{"s":"W","t":5.2818,"v":1.2205},{"s":"W","t":5.2902,"v":1.226},{"s":"W","t":5.2986,"v":1.2215},{"s":"W","t":5.307,"v":1.224},{"s":"W","t":5.3154,"v":1.2175},{"s":"W","t":5.3238,"v":1.22},{"s":"W","t":5.3305,"v":1.215},{"s":"W","t":5.3389,"v":1.216},{"s":"W","t":5.3473,"v":1.212},{"s":"W","t":5.3558,"v":1.212},{"s":"W","t":5.3642,"v":1.209},{"s":"W","t":5.3726,"v":1.2095},{"s":"W","t":5.381,"v":1.2075},{"s":"W","t":5.3978,"v":1.207},{"s":"W","t":5.4146,"v":1.207},{"s":"W","t":5.4483,"v":1.2075},{"s":"W","t":5.4819,"v":1.208},{"s":"W","t":5.5492,"v":1.208},{"s":"W","t":5.6,"v":1.208},
{"s":"F","t":4.9,"v":1.2045},{"s":"F","t":5.0,"v":1.2045},{"s":"F","t":5.0049,"v":1.195},{"s":"F","t":5.0111,"v":1.215},{"s":"F","t":5.015,"v":1.232},{"s":"F","t":5.0211,"v":1.229},{"s":"F","t":5.0278,"v":1.245},{"s":"F","t":5.0329,"v":1.249},{"s":"F","t":5.0379,"v":1.249},{"s":"F","t":5.048,"v":1.2555},{"s":"F","t":5.0581,"v":1.252},{"s":"F","t":5.0682,"v":1.248},{"s":"F","t":5.0783,"v":1.24},{"s":"F","t":5.0884,"v":1.228},{"s":"F","t":5.0985,"v":1.216},{"s":"F","t":5.1085,"v":1.203},{"s":"F","t":5.1186,"v":1.193},{"s":"F","t":5.1287,"v":1.186},{"s":"F","t":5.1388,"v":1.182},{"s":"F","t":5.1506,"v":1.18},{"s":"F","t":5.155,"v":1.19},{"s":"F","t":5.1607,"v":1.165},{"s":"F","t":5.1651,"v":1.148},{"s":"F","t":5.1701,"v":1.158},{"s":"F","t":5.1731,"v":1.164},{"s":"F","t":5.1775,"v":1.158},{"s":"F","t":5.1819,"v":1.147},{"s":"F","t":5.1866,"v":1.155},{"s":"F","t":5.191,"v":1.165},{"s":"F","t":5.196,"v":1.162},{"s":"F","t":5.1994,"v":1.159},{"s":"F","t":5.2044,"v":1.168},{"s":"F","t":5.2095,"v":1.177},{"s":"F","t":5.2145,"v":1.176},{"s":"F","t":5.2195,"v":1.181},{"s":"F","t":5.2263,"v":1.1935},{"s":"F","t":5.233,"v":1.1965},{"s":"F","t":5.2397,"v":1.2055},{"s":"F","t":5.2498,"v":1.206},{"s":"F","t":5.2565,"v":1.214},{"s":"F","t":5.2666,"v":1.2165},{"s":"F","t":5.2733,"v":1.2185},{"s":"F","t":5.2834,"v":1.2175},{"s":"F","t":5.2918,"v":1.2195},{"s":"F","t":5.3003,"v":1.2175},{"s":"F","t":5.307,"v":1.218},{"s":"F","t":5.3171,"v":1.2155},{"s":"F","t":5.3272,"v":1.214},{"s":"F","t":5.3372,"v":1.212},{"s":"F","t":5.3473,"v":1.2095},{"s":"F","t":5.3642,"v":1.209},{"s":"F","t":5.381,"v":1.2065},{"s":"F","t":5.4146,"v":1.2065},{"s":"F","t":5.4819,"v":1.2075},{"s":"F","t":5.6,"v":1.207},
{"s":"S","t":4.9,"v":1.2038},{"s":"S","t":5.0,"v":1.2038},{"s":"S","t":5.0049,"v":1.1955},{"s":"S","t":5.0093,"v":1.215},{"s":"S","t":5.0137,"v":1.233},{"s":"S","t":5.0211,"v":1.222},{"s":"S","t":5.0278,"v":1.24},{"s":"S","t":5.0329,"v":1.245},{"s":"S","t":5.0396,"v":1.23},{"s":"S","t":5.048,"v":1.245},{"s":"S","t":5.0564,"v":1.228},{"s":"S","t":5.0638,"v":1.237},{"s":"S","t":5.0732,"v":1.217},{"s":"S","t":5.081,"v":1.221},{"s":"S","t":5.09,"v":1.203},{"s":"S","t":5.0974,"v":1.206},{"s":"S","t":5.1069,"v":1.191},{"s":"S","t":5.1146,"v":1.194},{"s":"S","t":5.1237,"v":1.184},{"s":"S","t":5.1321,"v":1.189},{"s":"S","t":5.1405,"v":1.183},{"s":"S","t":5.1506,"v":1.191},{"s":"S","t":5.1563,"v":1.197},{"s":"S","t":5.1607,"v":1.185},{"s":"S","t":5.1647,"v":1.161},{"s":"S","t":5.1725,"v":1.185},{"s":"S","t":5.1809,"v":1.168},{"s":"S","t":5.1893,"v":1.189},{"s":"S","t":5.1977,"v":1.175},{"s":"S","t":5.2078,"v":1.194},{"s":"S","t":5.2162,"v":1.185},{"s":"S","t":5.2246,"v":1.202},{"s":"S","t":5.2313,"v":1.1965},{"s":"S","t":5.2397,"v":1.2105},{"s":"S","t":5.2481,"v":1.204},{"s":"S","t":5.2565,"v":1.2145},{"s":"S","t":5.2649,"v":1.208},{"s":"S","t":5.2733,"v":1.2165},{"s":"S","t":5.2818,"v":1.2095},{"s":"S","t":5.2902,"v":1.2165},{"s":"S","t":5.2986,"v":1.2105},{"s":"S","t":5.307,"v":1.214},{"s":"S","t":5.3154,"v":1.2085},{"s":"S","t":5.3238,"v":1.2125},{"s":"S","t":5.3322,"v":1.2075},{"s":"S","t":5.3406,"v":1.2095},{"s":"S","t":5.3507,"v":1.2055},{"s":"S","t":5.3608,"v":1.207},{"s":"S","t":5.3709,"v":1.2045},{"s":"S","t":5.381,"v":1.2052},{"s":"S","t":5.3978,"v":1.2045},{"s":"S","t":5.4146,"v":1.205},{"s":"S","t":5.4483,"v":1.2055},{"s":"S","t":5.5155,"v":1.2055},{"s":"S","t":5.6,"v":1.205}
]
},
"concat":[
{"width":694,"height":272,"data":{"name":"a"},"mark":{"type":"line","strokeWidth":2.2,"clip":true,"interpolate":"monotone"},
"encoding":{
"x":{"field":"t","type":"quantitative","scale":{"domain":[4.9,5.6],"nice":false,"zero":false},"axis":{"values":[4.9,5,5.1,5.2,5.3,5.4,5.5,5.6],"format":"~g","title":["Time (s)","(a)"],"titlePadding":3}},
"y":{"field":"v","type":"quantitative","scale":{"domain":[4,11.84],"nice":false,"zero":false},"axis":{"values":[4,5,6,7,8,9,10,11],"format":"~g","title":"Active power (MW)","titlePadding":14}},
"color":{"field":"s","type":"nominal","scale":{"domain":["W","F","S"],"range":["#0000ff","#00ff00","#ff0000"]},"legend":{"orient":"top-right","offset":6,"title":null,"labelExpr":"datum.value == 'W' ? 'Without protection system' : datum.value == 'F' ? 'FRT control strategy' : 'STATCOM controller'","symbolType":"stroke","symbolSize":441,"symbolStrokeWidth":2.5,"labelFont":"Liberation Serif, Times New Roman, DejaVu Serif, serif","labelFontWeight":"bold","labelFontSize":13.5,"labelColor":"#000000","strokeColor":"#666666","fillColor":"#ffffff","padding":3,"rowPadding":2,"labelOffset":1,"cornerRadius":0}}}},
{"width":693,"height":267,"data":{"name":"b"},"mark":{"type":"line","strokeWidth":2.2,"clip":true,"interpolate":"monotone"},
"encoding":{
"x":{"field":"t","type":"quantitative","scale":{"domain":[4.9,5.8],"nice":false,"zero":false},"axis":{"values":[4.9,5,5.1,5.2,5.3,5.4,5.5,5.6,5.7,5.8],"format":"~g","title":["Time (s)","(b)"],"titlePadding":8}},
"y":{"field":"v","type":"quantitative","scale":{"domain":[-0.5,3.5],"nice":false,"zero":false},"axis":{"values":[-0.5,0,0.5,1,1.5,2,2.5,3,3.5],"labelExpr":"datum.value < 0 ? '-' + format(-datum.value, '~g') : format(datum.value, '~g')","title":"Reactive power (MVAR)","titlePadding":7}},
"color":{"field":"s","type":"nominal","scale":{"domain":["W","F","S"],"range":["#0000ff","#00ff00","#ff0000"]},"legend":{"orient":"top-right","offset":6,"title":null,"labelExpr":"datum.value == 'W' ? 'Without protection system' : datum.value == 'F' ? 'FRT control strategy' : 'STATCOM controller'","symbolType":"stroke","symbolSize":441,"symbolStrokeWidth":2.5,"labelFont":"Liberation Serif, Times New Roman, DejaVu Serif, serif","labelFontWeight":"bold","labelFontSize":13.5,"labelColor":"#000000","strokeColor":"#666666","fillColor":"#ffffff","padding":3,"rowPadding":2,"labelOffset":1,"cornerRadius":0}}}},
{"width":697,"height":267,"data":{"name":"c"},"mark":{"type":"line","strokeWidth":2.4,"clip":true,"interpolate":"monotone"},
"encoding":{
"x":{"field":"t","type":"quantitative","scale":{"domain":[4.9,5.8],"nice":false,"zero":false},"axis":{"values":[4.9,5,5.1,5.2,5.3,5.4,5.5,5.6,5.7,5.8],"format":"~g","title":["Time (s)","(c)"],"titlePadding":-4}},
"y":{"field":"v","type":"quantitative","scale":{"domain":[1040,1240],"nice":false,"zero":false},"axis":{"values":[1040,1060,1080,1100,1120,1140,1160,1180,1200,1220,1240],"format":"d","title":"DC-bus voltage (V)","titlePadding":2}},
"color":{"field":"s","type":"nominal","scale":{"domain":["W","F","S"],"range":["#0000ff","#00ff00","#ff0000"]},"legend":{"orient":"top-right","offset":7,"title":null,"labelExpr":"datum.value == 'W' ? 'Without protection system' : datum.value == 'F' ? 'FRT control strategy' : 'STATCOM controller'","symbolType":"stroke","symbolSize":441,"symbolStrokeWidth":2.5,"labelFont":"Liberation Serif, Times New Roman, DejaVu Serif, serif","labelFontWeight":"bold","labelFontSize":13.5,"labelColor":"#000000","strokeColor":"#666666","fillColor":"#ffffff","padding":3,"rowPadding":2,"labelOffset":1,"cornerRadius":0}}}},
{"width":706,"height":272,"data":{"name":"d"},"mark":{"type":"line","strokeWidth":2.2,"clip":true,"interpolate":"monotone"},
"encoding":{
"x":{"field":"t","type":"quantitative","scale":{"domain":[4.9,5.6],"nice":false,"zero":false},"axis":{"values":[4.9,5,5.1,5.2,5.3,5.4,5.5,5.6],"format":"~g","title":["Time (s)","(d)"],"titlePadding":-5}},
"y":{"field":"v","type":"quantitative","scale":{"domain":[0.2,1.08],"nice":false,"zero":false},"axis":{"values":[0.2,0.3,0.4,0.5,0.6,0.7,0.8,0.9,1],"format":"~g","title":"Mechanical torque (p.u)","titlePadding":2}},
"color":{"field":"s","type":"nominal","scale":{"domain":["W","F","S"],"range":["#0000ff","#00ff00","#ff0000"]},"legend":{"orient":"top-right","offset":7,"title":null,"labelExpr":"datum.value == 'W' ? 'Without protection system' : datum.value == 'F' ? 'FRT control strategy' : 'STATCOM controller'","symbolType":"stroke","symbolSize":441,"symbolStrokeWidth":2.5,"labelFont":"Liberation Serif, Times New Roman, DejaVu Serif, serif","labelFontWeight":"bold","labelFontSize":13.5,"labelColor":"#000000","strokeColor":"#666666","fillColor":"#ffffff","padding":3,"rowPadding":2,"labelOffset":1,"cornerRadius":0}}}},
{"width":703,"height":267,"data":{"name":"e"},"mark":{"type":"line","strokeWidth":2.2,"clip":true,"interpolate":"monotone"},
"encoding":{
"x":{"field":"t","type":"quantitative","scale":{"domain":[4.9,5.6],"nice":false,"zero":false},"axis":{"values":[4.9,5,5.1,5.2,5.3,5.4,5.5,5.6],"format":"~g","title":["Time (s)","(e)"],"titlePadding":-1}},
"y":{"field":"v","type":"quantitative","scale":{"domain":[1.12,1.28],"nice":false,"zero":false},"axis":{"values":[1.12,1.14,1.16,1.18,1.2,1.22,1.24,1.26,1.28],"format":"~g","title":"Rotor speed (p.u)","titlePadding":4}},
"color":{"field":"s","type":"nominal","scale":{"domain":["W","F","S"],"range":["#0000ff","#00ff00","#ff0000"]},"legend":{"orient":"top-right","offset":6,"title":null,"labelExpr":"datum.value == 'W' ? 'Without protection system' : datum.value == 'F' ? 'FRT control strategy' : 'STATCOM controller'","symbolType":"stroke","symbolSize":441,"symbolStrokeWidth":2.5,"labelFont":"Liberation Serif, Times New Roman, DejaVu Serif, serif","labelFontWeight":"bold","labelFontSize":13.5,"labelColor":"#000000","strokeColor":"#666666","fillColor":"#ffffff","padding":3,"rowPadding":2,"labelOffset":1,"cornerRadius":0}}}}
]
}
